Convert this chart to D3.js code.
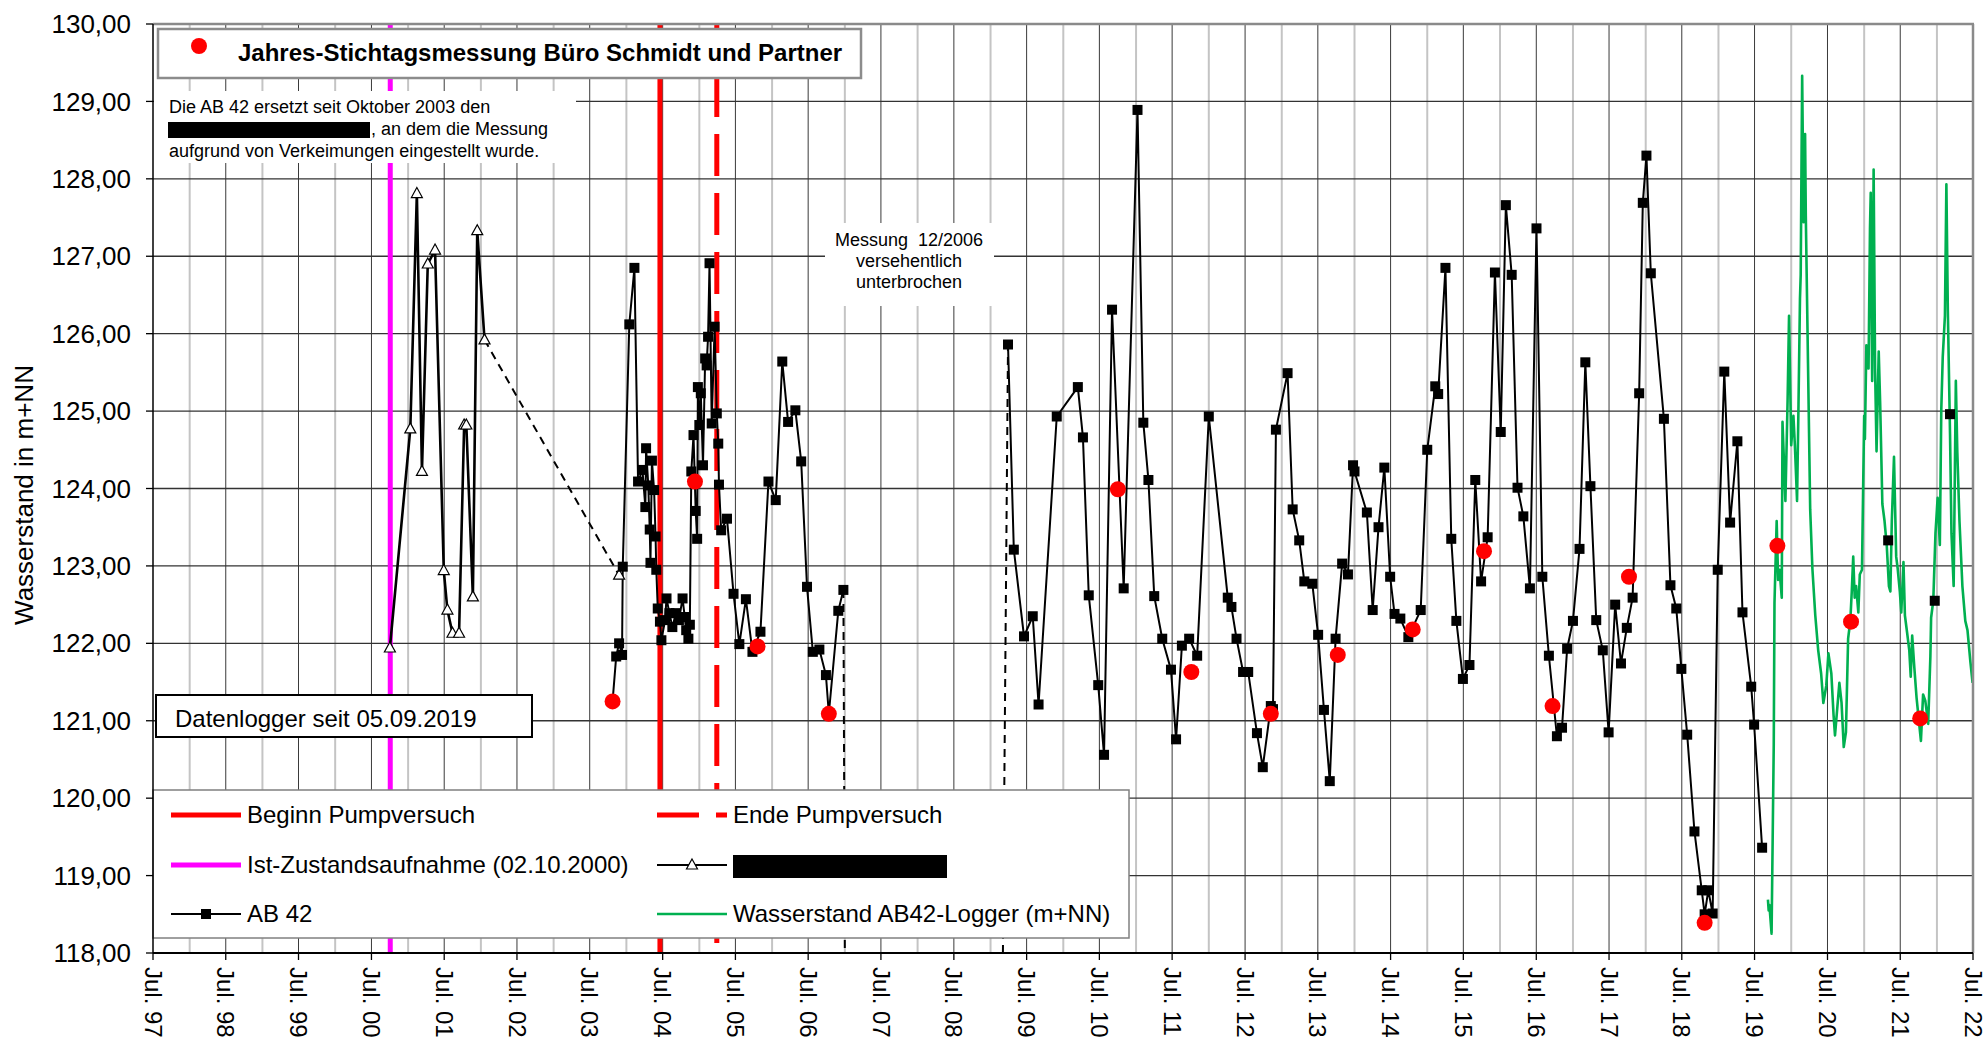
<!DOCTYPE html>
<html>
<head>
<meta charset="utf-8">
<script src="https://cdnjs.cloudflare.com/ajax/libs/d3/7.8.5/d3.min.js"></script>
<style>
  body { margin: 0; background: #fff; }
  svg { display: block; font-family: "Liberation Sans", Arial, sans-serif; }
</style>
</head>
<body>
<svg id="graph" width="1984" height="1038"></svg>
<script>
/*globals d3*/
// values, dates as decimal years

// red dots - Jahres-Stichtagsmessung
var stichtag = [[2003.81,121.25],[2004.94,124.09],[2005.80,121.96],[2006.78,121.09],[2010.75,123.99],
  [2011.76,121.63],[2012.85,121.09],[2013.77,121.85],[2014.80,122.18],[2015.78,123.19],[2016.72,121.19],
  [2017.77,122.86],[2018.81,118.39],[2019.81,123.26],[2020.82,122.28],[2021.77,121.03]];

// old well (redacted name), triangles
var altMessstelle = [[2000.75,121.94],[2001.03,124.77],[2001.12,127.81],[2001.19,124.22],[2001.27,126.90],
  [2001.37,127.08],[2001.49,122.94],[2001.54,122.43],[2001.61,122.13],[2001.70,122.13],[2001.77,124.82],
  [2001.80,124.82],[2001.89,122.60],[2001.95,127.33],[2002.05,125.92]];
var altLink = [[2002.05,125.92],[2003.90,122.88]];

// AB 42, squares
var ab42Early = [[2003.81,121.25],[2003.86,121.83],[2003.90,122.00],[2003.94,121.85],[2003.95,122.99],
  [2004.04,126.12],[2004.11,126.85],[2004.16,124.09],[2004.22,124.24],[2004.26,123.76],[2004.27,124.52],
  [2004.30,124.04],[2004.32,123.47],[2004.33,123.04],[2004.35,124.36],[2004.38,123.98],[2004.40,123.38],
  [2004.41,122.95],[2004.43,122.45],[2004.46,122.28],[2004.48,122.04],[2004.53,122.30],[2004.55,122.58],
  [2004.59,122.39],[2004.63,122.21],[2004.68,122.39],[2004.72,122.30],[2004.77,122.58],[2004.80,122.34],
  [2004.82,122.17],[2004.85,122.06],[2004.87,122.24],[2004.89,124.22],[2004.92,124.69],[2004.95,123.71],
  [2004.97,123.35],[2004.98,125.31],[2005.00,124.82],[2005.02,125.23],[2005.05,124.30],[2005.08,125.68],
  [2005.10,125.59],[2005.12,125.96],[2005.14,126.91],[2005.17,124.84],[2005.21,126.09],[2005.24,124.97],
  [2005.26,124.58],[2005.27,124.05],[2005.30,123.46],[2005.38,123.61],[2005.47,122.64],[2005.55,121.99],
  [2005.64,122.57],[2005.73,121.89],[2005.84,122.15],[2005.95,124.09],[2006.05,123.85],[2006.14,125.64],
  [2006.22,124.86],[2006.32,125.01],[2006.40,124.35],[2006.48,122.73],[2006.56,121.89],[2006.65,121.92],
  [2006.74,121.59],[2006.78,121.09],[2006.91,122.42],[2006.98,122.69]];

var ab42Late = [[2009.24,125.86],[2009.32,123.21],[2009.46,122.09],[2009.58,122.35],[2009.66,121.21],
  [2009.91,124.93],[2010.20,125.31],[2010.27,124.66],[2010.35,122.62],[2010.48,121.46],[2010.56,120.56],
  [2010.67,126.31],[2010.83,122.71],[2011.02,128.89],[2011.10,124.85],[2011.17,124.11],[2011.25,122.61],
  [2011.36,122.06],[2011.48,121.66],[2011.55,120.76],[2011.63,121.97],[2011.73,122.06],[2011.84,121.84],
  [2012.00,124.93],[2012.26,122.59],[2012.31,122.47],[2012.38,122.06],[2012.47,121.63],[2012.54,121.63],
  [2012.66,120.84],[2012.74,120.40],[2012.85,121.19],[2012.88,121.15],[2012.92,124.76],[2013.08,125.49],
  [2013.15,123.73],[2013.24,123.33],[2013.31,122.80],[2013.42,122.77],[2013.50,122.11],[2013.58,121.14],
  [2013.66,120.22],[2013.74,122.06],[2013.83,123.03],[2013.91,122.89],[2013.98,124.30],[2014.00,124.22],
  [2014.17,123.69],[2014.25,122.43],[2014.33,123.50],[2014.41,124.27],[2014.49,122.86],[2014.55,122.38],
  [2014.63,122.32],[2014.74,122.08],[2014.91,122.43],[2015.00,124.50],[2015.11,125.32],[2015.15,125.22],
  [2015.25,126.85],[2015.33,123.35],[2015.40,122.29],[2015.49,121.54],[2015.58,121.72],[2015.66,124.11],
  [2015.74,122.80],[2015.83,123.37],[2015.93,126.79],[2016.01,124.73],[2016.08,127.66],[2016.16,126.76],
  [2016.24,124.01],[2016.32,123.64],[2016.41,122.71],[2016.50,127.36],[2016.58,122.86],[2016.67,121.84],
  [2016.78,120.80],[2016.85,120.91],[2016.92,121.93],[2017.00,122.29],[2017.09,123.22],[2017.17,125.63],
  [2017.24,124.03],[2017.32,122.30],[2017.41,121.91],[2017.49,120.85],[2017.58,122.50],[2017.66,121.74],
  [2017.74,122.20],[2017.82,122.59],[2017.91,125.23],[2017.96,127.69],[2018.01,128.30],[2018.07,126.78],
  [2018.25,124.90],[2018.34,122.75],[2018.42,122.45],[2018.49,121.67],[2018.57,120.82],[2018.67,119.57],
  [2018.77,118.81],[2018.81,118.50],[2018.86,118.81],[2018.92,118.51],[2018.99,122.95],[2019.08,125.51],
  [2019.16,123.56],[2019.26,124.61],[2019.33,122.40],[2019.45,121.44],[2019.49,120.95],[2019.60,119.36]];

// single readings after the logger was installed (no line)
var ab42Recent = [[2021.33,123.33],[2021.97,122.55],[2022.18,124.96]];

// dashed links across the measuring gap 12/2006
var gapLinks = [
  [[2006.98,122.69],[2007.00,118.00]],
  [[2009.17,118.00],[2009.24,125.86]]
];

// Wasserstand AB42-Logger (m+NN)
var logger = [[2019.68,118.69],[2019.69,118.55],[2019.70,118.62],[2019.73,118.25],[2019.76,120.70],
  [2019.77,122.52],[2019.80,123.58],[2019.82,122.82],[2019.84,122.95],[2019.87,122.59],[2019.88,124.86],
  [2019.92,123.84],[2019.95,125.13],[2019.97,126.23],[2020.00,124.56],[2020.03,124.94],[2020.05,124.56],
  [2020.08,123.84],[2020.10,125.09],[2020.12,126.45],[2020.13,126.76],[2020.15,129.33],[2020.17,127.44],
  [2020.19,128.58],[2020.20,127.52],[2020.23,125.62],[2020.26,123.73],[2020.29,122.97],[2020.33,122.36],
  [2020.37,121.91],[2020.41,121.61],[2020.44,121.23],[2020.48,121.45],[2020.51,121.87],[2020.55,121.61],
  [2020.58,121.08],[2020.60,120.81],[2020.63,121.15],[2020.66,121.49],[2020.69,121.23],[2020.72,120.66],
  [2020.75,120.85],[2020.78,122.06],[2020.81,122.29],[2020.83,122.67],[2020.85,123.12],[2020.87,122.59],
  [2020.89,122.74],[2020.92,122.40],[2020.94,122.89],[2020.97,122.95],[2021.00,124.94],[2021.01,124.64],
  [2021.03,125.85],[2021.06,125.55],[2021.08,127.36],[2021.09,127.82],[2021.11,125.39],[2021.13,128.12],
  [2021.15,125.55],[2021.17,124.48],[2021.20,125.77],[2021.22,125.09],[2021.25,123.80],[2021.28,123.58],
  [2021.31,123.27],[2021.34,122.74],[2021.36,122.67],[2021.38,123.58],[2021.41,124.41],[2021.44,123.12],
  [2021.46,122.97],[2021.49,122.67],[2021.51,122.40],[2021.54,123.05],[2021.56,122.36],[2021.59,122.14],
  [2021.62,121.91],[2021.64,121.57],[2021.66,122.10],[2021.69,121.68],[2021.72,121.30],[2021.78,120.74],
  [2021.81,121.34],[2021.84,121.26],[2021.88,120.96],[2021.91,121.83],[2021.92,122.33],[2021.95,122.55],
  [2021.98,123.42],[2022.01,123.88],[2022.04,123.27],[2022.06,125.02],[2022.08,125.70],[2022.11,126.23],
  [2022.13,127.93],[2022.15,126.30],[2022.18,124.71],[2022.20,123.42],[2022.23,122.74],[2022.26,125.39],
  [2022.28,124.48],[2022.31,123.58],[2022.35,122.74],[2022.39,122.29],[2022.42,122.17],[2022.46,121.76],
  [2022.49,121.49]];

var istZustand = 2000.755, beginnPV = 2004.46, endePV = 2005.24;
var yTicks = d3.range(118, 131);
var tickYears = d3.range(1997, 2023);

var svg = d3.select("svg"),
    pLeft = 153, pRight = 1973, pTop = 24, pBottom = 953;

function toDate(t) {
  var yr = Math.floor(t), a = new Date(yr, 0, 1), b = new Date(yr + 1, 0, 1);
  return new Date(+a + (t - yr) * (b - a));
}

var x = d3.scaleTime().domain([new Date(1997, 6, 1), new Date(2022, 6, 1)]).range([pLeft, pRight]);
var y = d3.scaleLinear().domain([118, 130]).range([pBottom, pTop]);
var px = function(d) { return x(toDate(d[0])); },
    py = function(d) { return y(d[1]); };

// grid
var grid = svg.append("g").attr("class", "grid");
grid.selectAll("line.jan").data(tickYears.slice(1))
  .enter().append("line").attr("class", "jan")
  .attr("x1", function(d) { return x(new Date(d, 0, 1)); })
  .attr("x2", function(d) { return x(new Date(d, 0, 1)); })
  .attr("y1", pTop).attr("y2", pBottom)
  .attr("stroke", "#c4c4c4").attr("stroke-width", 2);
grid.selectAll("line.jul").data(tickYears.slice(1, -1))
  .enter().append("line").attr("class", "jul")
  .attr("x1", function(d) { return x(new Date(d, 6, 1)); })
  .attr("x2", function(d) { return x(new Date(d, 6, 1)); })
  .attr("y1", pTop).attr("y2", pBottom)
  .attr("stroke", "#3a3a3a").attr("stroke-width", 1);
grid.selectAll("line.h").data(yTicks.slice(1, -1))
  .enter().append("line").attr("class", "h")
  .attr("x1", pLeft).attr("x2", pRight)
  .attr("y1", y).attr("y2", y)
  .attr("stroke", "#333").attr("stroke-width", 1.3);

// event lines
function vline(t, color, dash) {
  var l = svg.append("line")
    .attr("x1", x(toDate(t))).attr("x2", x(toDate(t)))
    .attr("y1", pTop).attr("y2", pBottom)
    .attr("stroke", color).attr("stroke-width", 5);
  if (dash) l.attr("stroke-dasharray", dash).attr("stroke-dashoffset", 8);
}
vline(istZustand, "#ff00ff");
vline(beginnPV, "#ff0000");
vline(endePV, "#ff0000", "42,17");

var line = d3.line().x(px).y(py);

// dashed connections
svg.append("g").selectAll("path").data(gapLinks.concat([altLink]))
  .enter().append("path")
  .attr("d", line).attr("fill", "none")
  .attr("stroke", "#000").attr("stroke-width", 2).attr("stroke-dasharray", "8,6");

// series lines
svg.append("path").datum(altMessstelle).attr("d", line)
  .attr("fill", "none").attr("stroke", "#000").attr("stroke-width", 2.6);
[ab42Early, ab42Late].forEach(function(s) {
  svg.append("path").datum(s).attr("d", line)
    .attr("fill", "none").attr("stroke", "#000").attr("stroke-width", 2);
});
svg.append("path").datum(logger).attr("d", line)
  .attr("fill", "none").attr("stroke", "#00b050").attr("stroke-width", 2.6)
  .attr("stroke-linejoin", "round");

// markers
var tri = "M0,-6L5.5,4L-5.5,4Z";
svg.append("g").selectAll("path").data(altMessstelle.concat([altLink[1]]))
  .enter().append("path")
  .attr("d", tri)
  .attr("transform", function(d) { return "translate(" + px(d) + "," + py(d) + ")"; })
  .attr("fill", "#fff").attr("stroke", "#000").attr("stroke-width", 1.2);
svg.append("g").selectAll("rect").data(ab42Early.concat(ab42Late, ab42Recent))
  .enter().append("rect")
  .attr("x", function(d) { return px(d) - 5; })
  .attr("y", function(d) { return py(d) - 5; })
  .attr("width", 10).attr("height", 10)
  .attr("fill", "#000");
svg.append("g").selectAll("circle").data(stichtag)
  .enter().append("circle")
  .attr("cx", px).attr("cy", py).attr("r", 8)
  .attr("fill", "#ff0000");

// text boxes
var note = svg.append("g").attr("font-size", 18);
note.append("rect").attr("x", 154).attr("y", 91).attr("width", 422).attr("height", 72).attr("fill", "#fff");
note.append("text").attr("x", 169).attr("y", 113).text("Die AB 42 ersetzt seit Oktober 2003 den");
note.append("rect").attr("x", 168).attr("y", 122).attr("width", 202).attr("height", 16).attr("fill", "#000");
note.append("text").attr("x", 371).attr("y", 135).text(", an dem die Messung");
note.append("text").attr("x", 169).attr("y", 157).text("aufgrund von Verkeimungen eingestellt wurde.");

var gapNote = svg.append("g").attr("font-size", 18).attr("text-anchor", "middle");
gapNote.append("rect").attr("x", 825).attr("y", 223).attr("width", 169).attr("height", 83).attr("fill", "#fff");
["Messung  12/2006", "versehentlich", "unterbrochen"].forEach(function(s, i) {
  gapNote.append("text").attr("x", 909).attr("y", 245.5 + i * 21)
    .attr("xml:space", "preserve").text(s);
});

var topLeg = svg.append("g");
topLeg.append("rect").attr("x", 158).attr("y", 29).attr("width", 703).attr("height", 49)
  .attr("fill", "#fff").attr("stroke", "#8c8c8c").attr("stroke-width", 2.5);
topLeg.append("circle").attr("cx", 199).attr("cy", 46).attr("r", 8).attr("fill", "#ff0000");
topLeg.append("text").attr("x", 238).attr("y", 61).attr("font-size", 24).attr("font-weight", "bold")
  .text("Jahres-Stichtagsmessung Büro Schmidt und Partner");

var logBox = svg.append("g");
logBox.append("rect").attr("x", 156).attr("y", 695).attr("width", 376).attr("height", 42)
  .attr("fill", "#fff").attr("stroke", "#000").attr("stroke-width", 2);
logBox.append("text").attr("x", 175).attr("y", 727).attr("font-size", 24).text("Datenlogger seit 05.09.2019");

// legend
var legendItems = [
  { label: "Beginn Pumpversuch", kind: "red", col: 0, row: 0 },
  { label: "Ende Pumpversuch", kind: "reddash", col: 1, row: 0 },
  { label: "Ist-Zustandsaufnahme (02.10.2000)", kind: "magenta", col: 0, row: 1 },
  { label: null, kind: "tri", col: 1, row: 1 },
  { label: "AB 42", kind: "square", col: 0, row: 2 },
  { label: "Wasserstand AB42-Logger (m+NN)", kind: "green", col: 1, row: 2 }
];
var colX = [171, 657], rowY = [815, 865, 914];
var leg = svg.append("g");
leg.append("rect").attr("x", 153).attr("y", 790).attr("width", 976).attr("height", 148)
  .attr("fill", "#fff").attr("stroke", "#808080").attr("stroke-width", 1.5);
legendItems.forEach(function(it) {
  var x0 = colX[it.col], x1 = x0 + 70, ly = rowY[it.row];
  var l = leg.append("line").attr("x1", x0).attr("x2", x1).attr("y1", ly).attr("y2", ly);
  if (it.kind == "red" || it.kind == "reddash" || it.kind == "magenta") {
    l.attr("stroke", it.kind == "magenta" ? "#ff00ff" : "#ff0000").attr("stroke-width", 5);
    if (it.kind == "reddash") l.attr("stroke-dasharray", "42,17");
  } else if (it.kind == "green") {
    l.attr("stroke", "#00b050").attr("stroke-width", 2.5);
  } else {
    l.attr("stroke", "#000").attr("stroke-width", 2);
    if (it.kind == "tri")
      leg.append("path").attr("d", tri).attr("transform", "translate(" + (x0 + 35) + "," + ly + ")")
        .attr("fill", "#fff").attr("stroke", "#000").attr("stroke-width", 1.2);
    else
      leg.append("rect").attr("x", x0 + 30).attr("y", ly - 5).attr("width", 10).attr("height", 10).attr("fill", "#000");
  }
  if (it.label)
    leg.append("text").attr("x", x1 + 6).attr("y", ly + 8).attr("font-size", 24).text(it.label);
  else
    leg.append("rect").attr("x", x1 + 6).attr("y", ly - 10).attr("width", 214).attr("height", 23).attr("fill", "#000");
});

// frame and axes
svg.append("line").attr("x1", pLeft).attr("x2", pRight + 1).attr("y1", pTop).attr("y2", pTop)
  .attr("stroke", "#8a8a8a").attr("stroke-width", 2.5);
svg.append("line").attr("x1", pRight).attr("x2", pRight).attr("y1", pTop).attr("y2", pBottom)
  .attr("stroke", "#8a8a8a").attr("stroke-width", 2.5);

var yAxis = svg.append("g");
yAxis.append("line").attr("x1", pLeft).attr("x2", pLeft).attr("y1", pTop).attr("y2", pBottom)
  .attr("stroke", "#000").attr("stroke-width", 1.5);
yAxis.selectAll("line.t").data(yTicks).enter().append("line").attr("class", "t")
  .attr("x1", pLeft - 7).attr("x2", pLeft).attr("y1", y).attr("y2", y)
  .attr("stroke", "#000").attr("stroke-width", 1.3);
yAxis.selectAll("text").data(yTicks).enter().append("text")
  .attr("x", 131).attr("y", y).attr("dy", "0.35em")
  .attr("text-anchor", "end").attr("font-size", 26)
  .text(function(d) { return d.toFixed(2).replace(".", ","); });

var fmt = d3.timeFormat("%b. %y");
var xAxis = svg.append("g");
xAxis.append("line").attr("x1", pLeft).attr("x2", pRight).attr("y1", pBottom).attr("y2", pBottom)
  .attr("stroke", "#000").attr("stroke-width", 2);
xAxis.selectAll("line.t").data(tickYears).enter().append("line").attr("class", "t")
  .attr("x1", function(d) { return x(new Date(d, 6, 1)); })
  .attr("x2", function(d) { return x(new Date(d, 6, 1)); })
  .attr("y1", pBottom).attr("y2", pBottom + 7)
  .attr("stroke", "#000").attr("stroke-width", 1.3);
xAxis.selectAll("text").data(tickYears).enter().append("text")
  .attr("transform", function(d) { return "translate(" + x(new Date(d, 6, 1)) + ",967) rotate(90)"; })
  .attr("dy", "0.35em").attr("font-size", 24)
  .text(function(d) { return fmt(new Date(d, 6, 1)); });

svg.append("text")
  .attr("transform", "translate(24,495) rotate(-90)")
  .attr("text-anchor", "middle").attr("dy", "0.35em").attr("font-size", 26)
  .text("Wasserstand in m+NN");
</script>
</body>
</html>
